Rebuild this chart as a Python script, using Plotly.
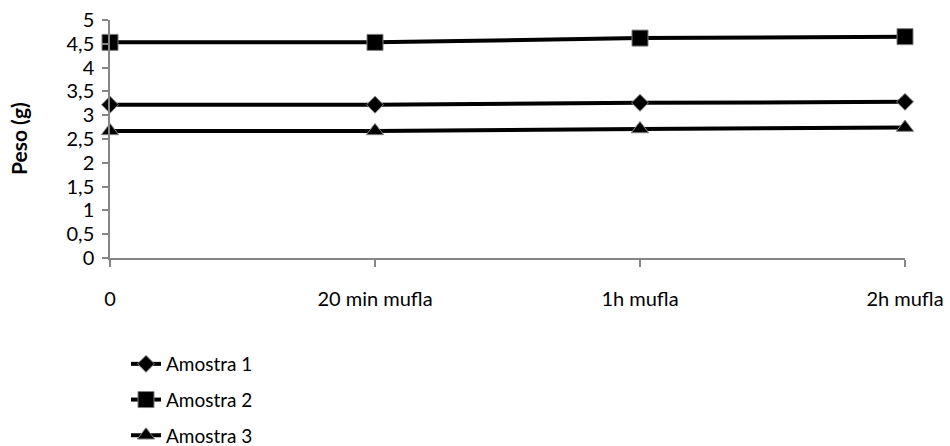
import plotly.graph_objects as go

# Weighing stages and sample masses (g)
stages = ["0", "20 min mufla", "1h mufla", "2h mufla"]
amostra_1 = [3.22, 3.22, 3.26, 3.28]
amostra_2 = [4.53, 4.53, 4.62, 4.65]
amostra_3 = [2.67, 2.67, 2.71, 2.74]
y_ticks = [0, 0.5, 1, 1.5, 2, 2.5, 3, 3.5, 4, 4.5, 5]
y_tick_text = ["0", "0,5", "1", "1,5", "2", "2,5", "3", "3,5", "4", "4,5", "5"]

FONT = "Lato"
AXIS_GREY = "#868686"

series = [
    ("Amostra 1", amostra_1, "diamond", 13),
    ("Amostra 2", amostra_2, "square", 16),
    ("Amostra 3", amostra_3, "triangle-up", 15),
]

fig = go.Figure()
for i, (name, values, symbol, size) in enumerate(series):
    fig.add_trace(go.Scatter(
        x=list(range(len(stages))),
        y=values,
        name=name,
        legendgroup=f"g{i}",
        mode="lines+markers",
        line=dict(color="black", width=4),
        marker=dict(symbol=symbol, size=size, color="black",
                    line=dict(color="#7f7f7f", width=1)),
        cliponaxis=False,
    ))

# rotated y-axis title placed to the left of the tick labels
fig.add_annotation(
    text="<b>Peso (g)</b>",
    xref="paper", yref="paper",
    x=-92 / 795, y=0.5,
    xanchor="center", yanchor="middle",
    textangle=-90,
    showarrow=False,
    font=dict(family=FONT, size=21, color="black"),
)

fig.update_layout(
    width=950,
    height=446,
    margin=dict(l=110, r=45, t=20, b=188, autoexpand=False),
    paper_bgcolor="white",
    plot_bgcolor="white",
    font=dict(family=FONT, size=20, color="black"),
    showlegend=True,
    legend=dict(
        x=126 / 950, xref="container", y=1 - 345 / 446, yref="container",
        xanchor="left", yanchor="top",
        orientation="v",
        tracegroupgap=8,
        itemwidth=30,
        font=dict(family=FONT, size=19, color="black"),
        bgcolor="rgba(0,0,0,0)",
    ),
    xaxis=dict(
        range=[0, 3],
        tickmode="array",
        tickvals=list(range(len(stages))),
        ticktext=stages,
        showgrid=False,
        zeroline=False,
        showline=True,
        linecolor=AXIS_GREY,
        linewidth=1.5,
        ticks="outside",
        ticklen=7,
        tickcolor=AXIS_GREY,
        tickwidth=1.5,
        ticklabelstandoff=15,
        tickfont=dict(family=FONT, size=20),
    ),
    yaxis=dict(
        range=[0, 5],
        tickmode="array",
        tickvals=y_ticks,
        ticktext=y_tick_text,
        showgrid=False,
        zeroline=False,
        showline=True,
        linecolor=AXIS_GREY,
        linewidth=1.5,
        ticks="outside",
        ticklen=6,
        tickcolor=AXIS_GREY,
        tickwidth=1.5,
        ticklabelstandoff=4,
        tickfont=dict(family=FONT, size=20),
    ),
)

fig.write_html("out.html")
